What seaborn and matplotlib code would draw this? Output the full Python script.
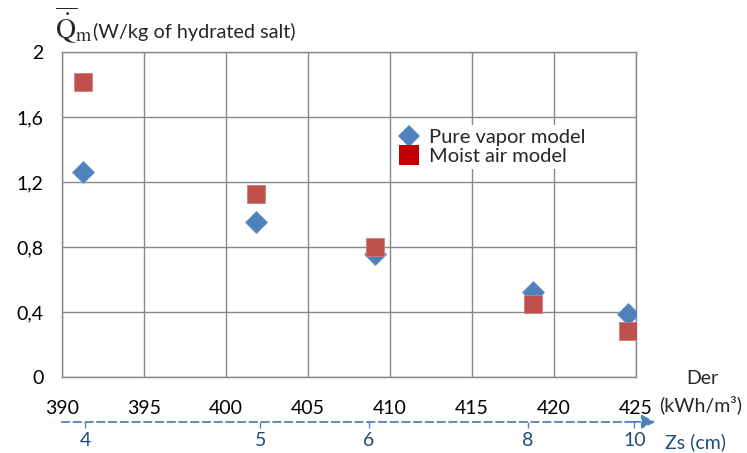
import seaborn as sns
import matplotlib.pyplot as plt
from matplotlib.lines import Line2D

# Data
der_pure = [391.3, 401.8, 409.1, 418.7, 424.5]
q_pure = [1.26, 0.956, 0.757, 0.523, 0.388]
der_moist = [391.3, 401.8, 409.1, 418.7, 424.5]
q_moist = [1.816, 1.126, 0.80, 0.449, 0.283]

x_ticks = [390, 395, 400, 405, 410, 415, 420, 425]
y_ticks = [0, 0.4, 0.8, 1.2, 1.6, 2.0]
y_tick_labels = ['0', '0,4', '0,8', '1,2', '1,6', '2']

zs_pos = [391.4, 402.1, 408.7, 418.4, 424.9]
zs_labels = ['4', '5', '6', '8', '10']

BLUE = '#4F81BD'
RED = '#C0504D'
GRID = '#888888'
DARKBLUE = '#1F4E79'

sns.set_theme(style='whitegrid')
plt.rcParams['font.family'] = ['Lato', 'DejaVu Sans']
plt.rcParams['mathtext.fontset'] = 'stix'

W, H = 747, 453
fig = plt.figure(figsize=(W / 100, H / 100), dpi=100)
ax = fig.add_axes([62 / W, 1 - 377 / H, (636 - 62) / W, (377 - 52) / H])

sns.scatterplot(x=der_pure, y=q_pure, marker='D', s=11.2 ** 2, color=BLUE,
                edgecolor='#6A95C9', linewidth=0.6, ax=ax, zorder=3)
sns.scatterplot(x=der_moist, y=q_moist, marker='s', s=13.2 ** 2, color=RED,
                edgecolor='#D47C7A', linewidth=0.6, ax=ax, zorder=4)

ax.set_xlim(390, 425)
ax.set_ylim(0, 2)
ax.set_xticks(x_ticks)
ax.set_xticklabels([str(v) for v in x_ticks])
ax.set_yticks(y_ticks)
ax.set_yticklabels(y_tick_labels)
ax.grid(True, color=GRID, linewidth=1.0)
for sp in ax.spines.values():
    sp.set_color(GRID)
    sp.set_linewidth(1.0)
ax.tick_params(axis='both', direction='out', length=4.3, width=1.0, color=GRID,
               labelsize=14, labelcolor='black')
ax.tick_params(axis='x', pad=12)
ax.tick_params(axis='y', pad=9)
ax.set_xlabel('')
ax.set_ylabel('')

# legend
handles = [Line2D([], [], marker='D', ls='', color=BLUE, markersize=10.7, markeredgewidth=0),
           Line2D([], [], marker='s', ls='', color='#C00000', markersize=15, markeredgewidth=0)]
leg = ax.legend(handles, ['Pure vapor model', 'Moist air model'], loc='center left',
                bbox_to_anchor=(0.58, 0.708), fontsize=14.5, frameon=True, facecolor='white',
                edgecolor='none', framealpha=1, handlelength=1.0, handletextpad=0.5,
                borderpad=0.2, borderaxespad=0, labelspacing=0.1)

# secondary Zs axis
sec = ax.secondary_xaxis(-0.138)
sec.set_xticks(zs_pos)
sec.set_xticklabels(zs_labels)
for sp in sec.spines.values():
    sp.set_color(BLUE)
    sp.set_linestyle((0, (4, 2.5)))
    sp.set_linewidth(1.3)
sec.tick_params(direction='out', length=4.3, width=1.0, color=BLUE, labelsize=14,
                labelcolor=DARKBLUE, pad=3)
ax.annotate('', xy=(1.034, -0.138), xytext=(0.995, -0.138), xycoords='axes fraction',
            arrowprops=dict(arrowstyle='-|>,head_length=0.7,head_width=0.35', color=BLUE,
                            lw=1.3, linestyle=(0, (4, 2.5)), shrinkA=0, shrinkB=0))

# axis titles
fig.text(702 / W, 1 - 378 / H, 'Der', fontsize=14, ha='center', va='center')
fig.text(701 / W, 1 - 405 / H, '(kWh/m³)', fontsize=14, ha='center', va='center')
fig.text(665 / W, 1 - 442 / H, 'Zs (cm)', fontsize=14, ha='left', va='center', color=DARKBLUE)
fig.text(55 / W, 1 - 38 / H, r'$\overline{\dot{\mathrm{Q}}}_{\mathrm{m}}$', fontsize=20,
         ha='left', va='baseline')
fig.text(93 / W, 1 - 38 / H, '(W/kg of hydrated salt)', fontsize=14.3, ha='left', va='baseline')

fig.savefig('out.png', dpi=100)
